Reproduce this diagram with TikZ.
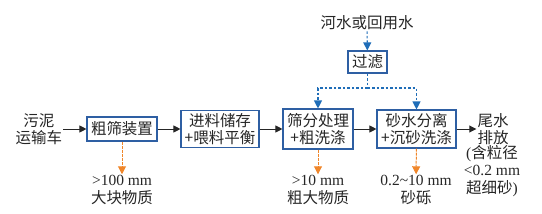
\documentclass[tikz,border=0pt]{standalone}
\usepackage{fontspec}
\setmainfont{Liberation Serif}
\newfontfamily\cjk{Noto Sans CJK SC}
\usetikzlibrary{arrows.meta}
\definecolor{boxblue}{HTML}{2E5FA3}
\definecolor{flowblue}{HTML}{1F6DB8}
\definecolor{sandorange}{HTML}{F0862A}

\begin{document}
\begin{tikzpicture}[x=1pt,y=-1pt,
    font=\fontsize{15.5}{17.5}\selectfont,
    zh/.style={font=\fontsize{15.5}{17.5}\selectfont\cjk},
    txt/.style={align=center,inner sep=1pt,text=black!85},
    unit/.style={draw=boxblue,line width=1.1pt,fill=white,align=center,inner sep=2pt,text=black!85},
    flow/.style={-{Triangle[length=7pt,width=7pt]},line width=0.9pt,black!85},
    water/.style={flowblue,line width=1.1pt,dash pattern=on 2.5pt off 2pt},
    waterin/.style={water,-{Triangle[length=8pt,width=8pt]}},
    reject/.style={-{Triangle[length=8pt,width=8pt]},sandorange,line width=1pt,dash pattern=on 3pt off 1pt}]

    \useasboundingbox (0,0) rectangle (542,214);

    % --- main line ---
    \node[txt,zh] (truck) at (39,129) {污泥\\运输车};
    \node[unit,zh,minimum width=70pt,minimum height=24pt] (coarse) at (122,129) {粗筛装置};
    \node[unit,zh,minimum width=78pt,minimum height=37pt] (feed) at (220,129) {进料储存\\+喂料平衡};
    \node[unit,zh,minimum width=70pt,minimum height=40pt] (sieve) at (318,129) {筛分处理\\+粗洗涤};
    \node[unit,zh,minimum width=79pt,minimum height=38pt] (grit) at (416.5,129) {砂水分离\\+沉砂洗涤};
    \node[txt,zh] (tail) at (493,129) {尾水\\排放};
    \node[txt] (tailnote) at (492,171) {({\cjk 含粒径}\\<0.2 mm\\{\cjk 超细砂})};

    \draw[flow] (truck) -- (coarse);
    \draw[flow] (coarse) -- (feed);
    \draw[flow] (feed) -- (sieve);
    \draw[flow] (sieve) -- (grit);
    \draw[flow] (grit) -- (tail);

    % --- wash water ---
    \node[txt,zh] (river) at (367,23) {河水或回用水};
    \node[unit,zh,minimum width=39pt,minimum height=22pt] (filter) at (367.5,62) {过滤};
    \coordinate (split) at (367.5,88);

    \draw[waterin] (river) -- (filter);
    \draw[water] (filter) -- (split);
    \draw[waterin] (split) -| (sieve.north);
    \draw[waterin] (split) -| (grit.north);

    % --- rejects ---
    \node[txt] (big) at (122,190) {>100 mm\\{\cjk 大块物质}};
    \node[txt] (lump) at (318,190) {>10 mm\\{\cjk 粗大物质}};
    \node[txt] (sand) at (416,190) {0.2\textasciitilde10 mm\\{\cjk 砂砾}};

    \draw[reject] (coarse) -- (big);
    \draw[reject] (sieve) -- (lump);
    \draw[reject] (grit) -- (sand);

\end{tikzpicture}
\end{document}
